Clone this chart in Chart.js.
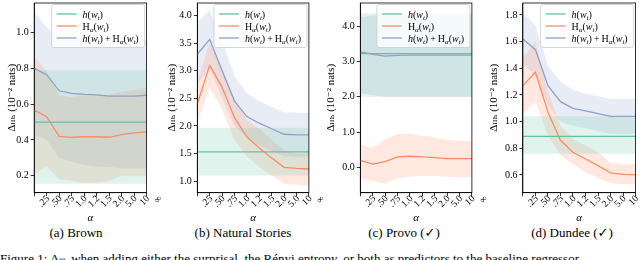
<!DOCTYPE html>
<html>
<head>
<meta charset="utf-8">
<script src="https://cdn.jsdelivr.net/npm/chart.js@4.4.0/dist/chart.umd.min.js"></script>
<style>
  html, body { margin: 0; padding: 0; background: #fff; }
  body { width: 640px; height: 260px; position: relative; overflow: hidden; font-family: "Liberation Serif", serif; color: #000; }
  canvas { position: absolute; top: 0; }
  .cap { position: absolute; top: 225px; font-size: 13px; line-height: 15px; white-space: nowrap; transform: translateX(-50%); }
  .fig { position: absolute; left: 0; top: 251px; font-size: 13px; line-height: 15px; white-space: nowrap; }
</style>
</head>
<body>
<div class="cap" style="left:76px">(a) Brown</div>
<div class="cap" style="left:243px">(b) Natural Stories</div>
<div class="cap" style="left:404px">(c) Provo (<span style="font-family:'DejaVu Sans'">✓</span>)</div>
<div class="cap" style="left:572px">(d) Dundee (<span style="font-family:'DejaVu Sans'">✓</span>)</div>
<div class="fig">Figure 1: Δₗₗₕ when adding either the surprisal, the Rényi entropy, or both as predictors to the baseline regressor.</div>
<script>
const alphaLabels = ['.25', '.50', '.75', '1.0', '1.2', '1.5', '2.0', '5.0', '10', '∞'];

// (a) Brown
const brownH      = [0.50, 0.50, 0.50, 0.50, 0.50, 0.50, 0.50, 0.50, 0.50, 0.50];
const brownHLo    = [0.155, 0.155, 0.155, 0.155, 0.155, 0.155, 0.155, 0.155, 0.155, 0.155];
const brownHHi    = [0.79, 0.79, 0.79, 0.79, 0.79, 0.79, 0.79, 0.79, 0.79, 0.79];
const brownRenyi   = [0.567, 0.53, 0.42, 0.415, 0.418, 0.418, 0.415, 0.43, 0.44, 0.445];
const brownRenyiLo = [0.21, 0.25, 0.18, 0.17, 0.16, 0.16, 0.17, 0.20, 0.20, 0.20];
const brownRenyiHi = [0.87, 0.78, 0.65, 0.64, 0.65, 0.65, 0.65, 0.67, 0.68, 0.69];
const brownBoth   = [0.80, 0.765, 0.675, 0.66, 0.655, 0.652, 0.645, 0.645, 0.645, 0.65];
const brownBothLo = [0.43, 0.40, 0.30, 0.28, 0.26, 0.25, 0.25, 0.24, 0.24, 0.24];
const brownBothHi = [1.12, 1.03, 0.97, 0.96, 0.96, 0.96, 0.96, 0.96, 0.96, 0.96];

// (b) Natural Stories
const nsH      = [1.53, 1.53, 1.53, 1.53, 1.53, 1.53, 1.53, 1.53, 1.53, 1.53];
const nsHLo    = [1.10, 1.10, 1.10, 1.10, 1.10, 1.10, 1.10, 1.10, 1.10, 1.10];
const nsHHi    = [1.97, 1.97, 1.97, 1.97, 1.97, 1.97, 1.97, 1.97, 1.97, 1.97];
const nsRenyi   = [2.40, 3.10, 2.70, 2.15, 1.80, 1.60, 1.42, 1.25, 1.23, 1.22];
const nsRenyiLo = [2.05, 2.70, 2.30, 1.75, 1.45, 1.25, 1.10, 0.95, 0.94, 0.92];
const nsRenyiHi = [2.80, 3.50, 3.05, 2.50, 2.10, 1.95, 1.75, 1.55, 1.50, 1.50];
const nsBoth   = [3.30, 3.57, 3.00, 2.45, 2.17, 2.05, 1.95, 1.85, 1.84, 1.84];
const nsBothLo = [2.75, 3.05, 2.50, 2.00, 1.80, 1.65, 1.55, 1.45, 1.44, 1.44];
const nsBothHi = [3.88, 4.10, 3.55, 2.90, 2.60, 2.45, 2.35, 2.25, 2.24, 2.24];

// (c) Provo
const pvH      = [3.22, 3.22, 3.22, 3.22, 3.22, 3.22, 3.22, 3.22, 3.22, 3.22];
const pvHLo    = [2.00, 2.00, 2.00, 2.00, 2.00, 2.00, 2.00, 2.00, 2.00, 2.00];
const pvHHi    = [4.35, 4.35, 4.35, 4.35, 4.35, 4.35, 4.35, 4.35, 4.35, 4.35];
const pvRenyi   = [0.20, 0.10, 0.17, 0.30, 0.32, 0.30, 0.28, 0.25, 0.25, 0.25];
const pvRenyiLo = [-0.30, -0.38, -0.45, -0.30, -0.25, -0.24, -0.24, -0.26, -0.27, -0.27];
const pvRenyiHi = [0.65, 0.55, 0.80, 0.95, 0.95, 0.90, 0.85, 0.78, 0.75, 0.75];
const pvBoth   = [3.27, 3.20, 3.15, 3.17, 3.18, 3.18, 3.18, 3.18, 3.18, 3.18];
const pvBothLo = [2.10, 2.05, 2.00, 2.00, 2.00, 2.00, 2.00, 2.00, 2.00, 2.00];
const pvBothHi = [4.25, 4.30, 4.30, 4.30, 4.30, 4.30, 4.30, 4.30, 4.30, 4.30];

// (d) Dundee
const ddH      = [0.89, 0.89, 0.89, 0.89, 0.89, 0.89, 0.89, 0.89, 0.89, 0.89];
const ddHLo    = [0.76, 0.76, 0.76, 0.76, 0.76, 0.76, 0.76, 0.76, 0.76, 0.76];
const ddHHi    = [1.04, 1.04, 1.04, 1.04, 1.04, 1.04, 1.04, 1.04, 1.04, 1.04];
const ddRenyi   = [1.27, 1.37, 1.07, 0.86, 0.77, 0.72, 0.67, 0.615, 0.605, 0.60];
const ddRenyiLo = [1.06, 1.15, 0.90, 0.75, 0.68, 0.62, 0.58, 0.54, 0.53, 0.53];
const ddRenyiHi = [1.48, 1.60, 1.22, 0.97, 0.87, 0.82, 0.77, 0.69, 0.68, 0.68];
const ddBoth   = [1.62, 1.54, 1.27, 1.15, 1.10, 1.08, 1.06, 1.04, 1.04, 1.04];
const ddBothLo = [1.43, 1.35, 1.12, 1.00, 0.97, 0.95, 0.93, 0.91, 0.91, 0.91];
const ddBothHi = [1.82, 1.72, 1.42, 1.30, 1.24, 1.21, 1.19, 1.17, 1.17, 1.17];

const brownTicks = [0.2, 0.4, 0.6, 0.8, 1.0];
const nsTicks = [1.0, 1.5, 2.0, 2.5, 3.0, 3.5, 4.0];
const pvTicks = [0, 1, 2, 3, 4];
const ddTicks = [0.6, 0.8, 1.0, 1.2, 1.4, 1.6, 1.8];

const colors = ['#66c2a5', '#fc8d62', '#8da0cb'];
const bandColors = ['rgba(102,194,165,0.2)', 'rgba(252,141,98,0.2)', 'rgba(141,160,203,0.2)'];
const FONT = '"Liberation Serif", "DejaVu Serif", serif';

// plot box in page pixels (left, right) and where the y title sits
const panels = [
  { lines: [brownH, brownRenyi, brownBoth], lo: [brownHLo, brownRenyiLo, brownBothLo], hi: [brownHHi, brownRenyiHi, brownBothHi],
    ticks: brownTicks, min: 0.105, max: 1.166, left: 34.3, right: 146.7, titleX: 12.7 },
  { lines: [nsH, nsRenyi, nsBoth], lo: [nsHLo, nsRenyiLo, nsBothLo], hi: [nsHHi, nsRenyiHi, nsBothHi],
    ticks: nsTicks, min: 0.79, max: 4.23, left: 197.7, right: 309.3, titleX: 173 },
  { lines: [pvH, pvRenyi, pvBoth], lo: [pvHLo, pvRenyiLo, pvBothLo], hi: [pvHHi, pvRenyiHi, pvBothHi],
    ticks: pvTicks, min: -0.71, max: 4.65, left: 360.7, right: 472.3, titleX: 332 },
  { lines: [ddH, ddRenyi, ddBoth], lo: [ddHLo, ddRenyiLo, ddBothLo], hi: [ddHHi, ddRenyiHi, ddBothHi],
    ticks: ddTicks, min: 0.467, max: 1.89, left: 523.3, right: 636, titleX: 495 }
];

// legend labels as [text, style] pieces: i = italic, r = roman, s suffix = subscript
const legendText = [
  [['h', 'i'], ['(', 'r'], ['w', 'i'], ['t', 'is'], [')', 'r']],
  [['H', 'r'], ['α', 'is'], ['(', 'r'], ['w', 'i'], ['t', 'is'], [')', 'r']],
  [['h', 'i'], ['(', 'r'], ['w', 'i'], ['t', 'is'], [')', 'r'], ['\u2009+\u2009', 'r'],
   ['H', 'r'], ['α', 'is'], ['(', 'r'], ['w', 'i'], ['t', 'is'], [')', 'r']]
];

function drawRich(ctx, segs, x, y) {
  for (const [t, s] of segs) {
    const sub = s.endsWith('s');
    ctx.font = (s[0] === 'i' ? 'italic ' : '') + (sub ? 7 : 10) + 'px ' + FONT;
    ctx.fillText(t, x, y + (sub ? 2 : 0));
    x += ctx.measureText(t).width;
  }
}

const legendBox = {
  id: 'legendBox',
  afterDatasetsDraw(chart) {
    const { ctx, chartArea: a } = chart;
    const w = 93, h = 43;
    const x = a.right - 2 - w, y = a.top + 1.5;
    ctx.save();
    ctx.fillStyle = 'rgba(255,255,255,0.8)';
    ctx.strokeStyle = '#cccccc';
    ctx.lineWidth = 0.8;
    ctx.beginPath();
    ctx.roundRect(x, y, w, h, 2);
    ctx.fill();
    ctx.stroke();
    ctx.textBaseline = 'alphabetic';
    ctx.fillStyle = '#000';
    for (let i = 0; i < 3; i++) {
      const ly = y + 9.5 + i * 12;
      ctx.strokeStyle = chart.data.datasets[i].borderColor;
      ctx.lineWidth = 1.3;
      ctx.beginPath();
      ctx.moveTo(x + 5, ly);
      ctx.lineTo(x + 25, ly);
      ctx.stroke();
      drawRich(ctx, legendText[i], x + 31, ly + 3.5);
    }
    ctx.restore();
  }
};

const frame = {
  id: 'frame',
  afterDraw(chart) {
    const { ctx, chartArea: a } = chart;
    ctx.save();
    ctx.strokeStyle = '#000';
    ctx.lineWidth = 0.8;
    ctx.strokeRect(a.left, a.top, a.right - a.left, a.bottom - a.top);
    ctx.restore();
  }
};

const H = 225;
const plotBottom = 192.7;
const yTitleSize = 11;

panels.forEach((p) => {
  const left = p.titleX - yTitleSize * 0.6;
  const w = Math.ceil(p.right - left + 14);
  const cv = document.createElement('canvas');
  cv.width = w;
  cv.height = H;
  cv.style.left = left + 'px';
  cv.style.width = w + 'px';
  cv.style.height = H + 'px';
  document.body.appendChild(cv);

  const datasets = [];
  p.lines.forEach((d, i) => {
    datasets.push({ data: d, borderColor: colors[i], borderWidth: 1.3, pointRadius: 0, fill: false });
  });
  p.lines.forEach((d, i) => {
    datasets.push({ data: p.hi[i], borderWidth: 0, borderColor: 'rgba(0,0,0,0)', pointRadius: 0, fill: false });
    datasets.push({ data: p.lo[i], borderWidth: 0, borderColor: 'rgba(0,0,0,0)', pointRadius: 0, fill: '-1', backgroundColor: bandColors[i] });
  });

  new Chart(cv, {
    type: 'line',
    data: { labels: alphaLabels, datasets: datasets },
    options: {
      responsive: false,
      animation: false,
      devicePixelRatio: 1,
      layout: { padding: { top: 3, right: w - (p.right - left), left: 0, bottom: 0 } },
      plugins: { legend: { display: false }, tooltip: { enabled: false } },
      scales: {
        x: {
          type: 'category',
          offset: false,
          grid: { drawOnChartArea: false, drawTicks: true, tickLength: 3.5, tickColor: '#000', tickWidth: 0.8 },
          border: { color: '#000', width: 0.8 },
          ticks: { autoSkip: false, minRotation: 45, maxRotation: 45, color: '#000', padding: -3, labelOffset: 14,
                   font: { family: FONT, size: 9.5 } },
          title: { display: true, text: 'α', color: '#000', padding: 0, font: { family: FONT, size: 11, style: 'italic' } },
          afterFit: (s) => { s.height = H - plotBottom; s.paddingLeft = 0; s.paddingRight = 0; }
        },
        y: {
          min: p.min,
          max: p.max,
          afterBuildTicks: (s) => { s.ticks = p.ticks.map((v) => ({ value: v })); },
          grid: { drawOnChartArea: false, drawTicks: true, tickLength: 3.5, tickColor: '#000', tickWidth: 0.8 },
          border: { color: '#000', width: 0.8 },
          ticks: { color: '#000', padding: 2, font: { family: FONT, size: 10 }, callback: (v) => Number(v).toFixed(1) },
          title: { display: true, text: 'Δₗₗₕ (10⁻² nats)', color: '#000', padding: 0, font: { family: FONT, size: yTitleSize } },
          afterFit: (s) => { s.width = p.left - left; s.paddingTop = 0; s.paddingBottom = 0; }
        }
      }
    },
    plugins: [legendBox, frame]
  });
});
</script>
</body>
</html>
